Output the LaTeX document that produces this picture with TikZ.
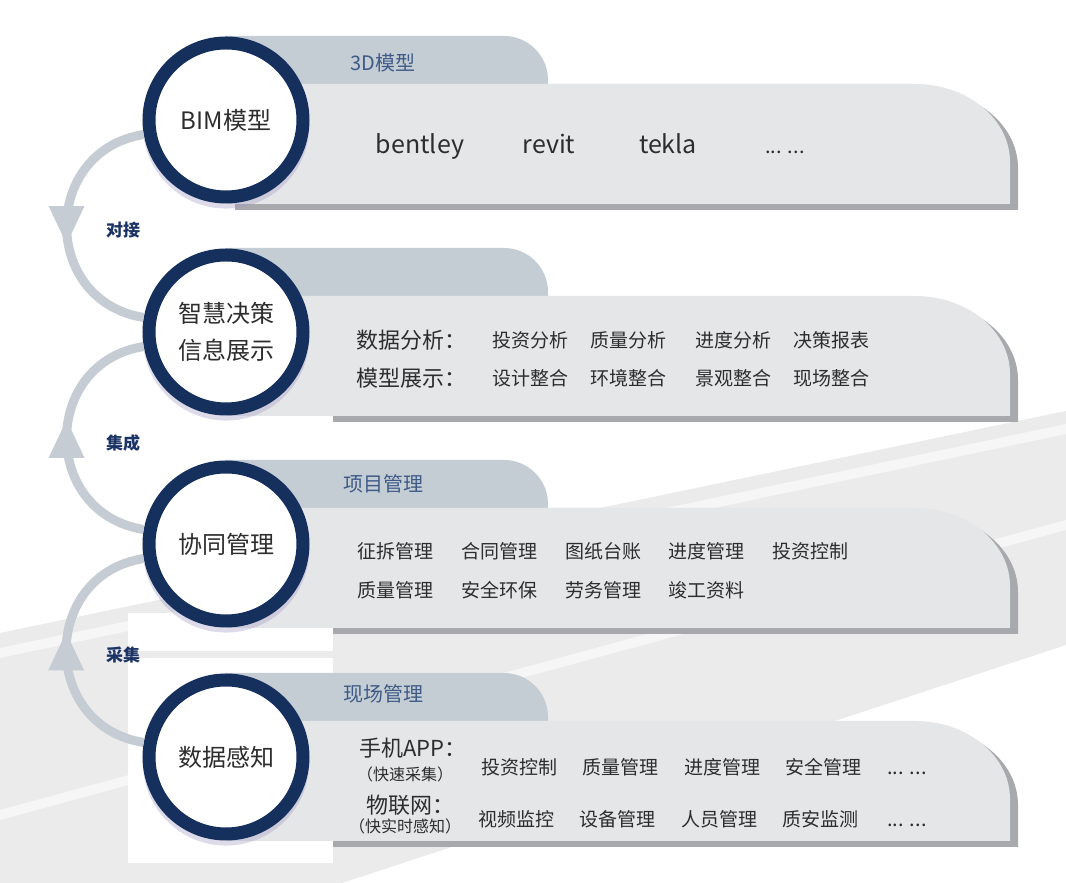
\documentclass[tikz,border=0pt]{standalone}
\usepackage{fontspec}
\setmainfont{Noto Sans CJK SC}
\usetikzlibrary{decorations.markings, shadows}
\definecolor{ringblue}{RGB}{22,48,94}
\definecolor{arcgray}{RGB}{197,204,211}
\definecolor{tabfill}{RGB}{197,205,212}
\definecolor{boxfill}{RGB}{229,230,232}
\definecolor{boxshade}{RGB}{168,169,173}
\definecolor{tabblue}{RGB}{62,90,135}
\definecolor{linkblue}{RGB}{28,52,101}
\definecolor{textgray}{RGB}{45,45,45}
\definecolor{road}{RGB}{235,235,236}
\definecolor{stripe}{RGB}{246,246,246}
\definecolor{glow}{RGB}{160,152,196}
\tikzset{
hub/.style={circle, draw=ringblue, line width=13pt, fill=white, minimum size=154pt, inner sep=0pt, align=center, text=textgray, font=\fontsize{24}{37}\selectfont, drop shadow={shadow scale=1.08, shadow xshift=0pt, shadow yshift=-5pt, opacity=.35, fill=glow}}, % the four round labels
flow/.style={line width=9pt, draw=arcgray, postaction={decorate}, decoration={markings, mark=at position 0.5 with {\fill[arcgray] (18pt,0pt) -- (-20pt,18pt) -- (-20pt,-18pt) -- cycle;}}},
tabtext/.style={font=\fontsize{20}{22}\selectfont, text=tabblue},
soft/.style={font=\fontsize{25}{27}\selectfont, text=textgray, anchor=base},
item/.style={font=\fontsize{19}{21}\selectfont, text=textgray},
head/.style={font=\fontsize{22}{24}\selectfont, text=textgray},
note/.style={font=\fontsize{16}{18}\selectfont, text=textgray},
dots/.style={font=\fontsize{20}{22}\selectfont, text=textgray, anchor=base},
link/.style={font=\bfseries\fontsize{17}{19}\selectfont, text=linkblue},
}
\begin{document}
\begin{tikzpicture}[x=1pt, y=1pt]
        \useasboundingbox (0,0) rectangle (1066,883);
        \fill[white] (0,0) rectangle (1066,883);
        % background road
        \fill[road] (0,250) -- (1066,472) -- (1066,238) -- (342,0) -- (0,0) -- cycle;
        \fill[stripe] (0,235) -- (1066,459) -- (1066,449) -- (0,225) -- cycle;
        \fill[stripe] (0,73) -- (1066,363) -- (1066,353) -- (0,63) -- cycle;
        \fill[white] (128,232) rectangle (333,270);
        \fill[white] (128,20) rectangle (333,225);
        % shadows
        \fill[boxshade] (235,673) -- (235,793) -- (923,793) arc[start angle=90, end angle=0, x radius=95pt, y radius=78pt] -- (1018,673) -- cycle;
        \fill[boxshade] (333,461) -- (333,581) -- (923,581) arc[start angle=90, end angle=0, x radius=95pt, y radius=78pt] -- (1018,461) -- cycle;
        \fill[boxshade] (333,249) -- (333,369) -- (923,369) arc[start angle=90, end angle=0, x radius=95pt, y radius=78pt] -- (1018,249) -- cycle;
        \fill[boxshade] (333,36) -- (333,156) -- (923,156) arc[start angle=90, end angle=0, x radius=95pt, y radius=78pt] -- (1018,36) -- cycle;
        % tabs
        \fill[tabfill] (226,799) -- (226,847) -- (504,847) arc[start angle=90, end angle=0, radius=44pt] -- (548,799) -- cycle;
        \fill[tabfill] (226,587) -- (226,635) -- (504,635) arc[start angle=90, end angle=0, radius=44pt] -- (548,587) -- cycle;
        \fill[tabfill] (226,375) -- (226,423) -- (504,423) arc[start angle=90, end angle=0, radius=44pt] -- (548,375) -- cycle;
        \fill[tabfill] (226,162) -- (226,210) -- (504,210) arc[start angle=90, end angle=0, radius=44pt] -- (548,162) -- cycle;
        % boxes
        \fill[boxfill] (226,679) -- (226,799) -- (915,799) arc[start angle=90, end angle=0, x radius=95pt, y radius=78pt] -- (1010,679) -- cycle;
        \fill[boxfill] (226,467) -- (226,587) -- (915,587) arc[start angle=90, end angle=0, x radius=95pt, y radius=78pt] -- (1010,467) -- cycle;
        \fill[boxfill] (226,255) -- (226,375) -- (915,375) arc[start angle=90, end angle=0, x radius=95pt, y radius=78pt] -- (1010,255) -- cycle;
        \fill[boxfill] (226,42) -- (226,162) -- (915,162) arc[start angle=90, end angle=0, x radius=95pt, y radius=78pt] -- (1010,42) -- cycle;
        % hubs
        \node[hub] (bim) at (226,763) {BIM模型};
        \node[hub] (info) at (226,551) {智慧决策\\信息展示};
        \node[hub] (coop) at (226,339) {协同管理};
        \node[hub] (sense) at (226,126) {数据感知};
        % links
        \draw[flow] (bim.190) to[out=189, in=171, looseness=1.46] (info.170);
        \draw[flow] (coop.170) to[out=171, in=189, looseness=1.46] (info.190);
        \draw[flow] (sense.170) to[out=171, in=189, looseness=1.46] (coop.190);
        \node[link] (l1) at (123,653) {对接};
        \node[link] (l2) at (123,440) {集成};
        \node[link] (l3) at (123,228) {采集};
        % tab titles
        \node[tabtext] (t1) at (383,820) {3D模型};
        \node[tabtext] (t3) at (383,399) {项目管理};
        \node[tabtext] (t4) at (383,189) {现场管理};
        % row 1
        \node[soft] (b1) at (420,729) {bentley};
        \node[soft] (b2) at (549,729) {revit};
        \node[soft] (b3) at (668,729) {tekla};
        \node[dots] (b4) at (785,729) {... ...};
        % row 2
        \node[head] (h1) at (411,543) {数据分析：};
        \node[item] at (530,543) {投资分析};
        \node[item] at (628,543) {质量分析};
        \node[item] at (733,543) {进度分析};
        \node[item] at (831,543) {决策报表};
        \node[head] (h2) at (411,505) {模型展示：};
        \node[item] at (530,505) {设计整合};
        \node[item] at (628,505) {环境整合};
        \node[item] at (733,505) {景观整合};
        \node[item] at (831,505) {现场整合};
        % row 3
        \node[item] at (395,332) {征拆管理};
        \node[item] at (499,332) {合同管理};
        \node[item] at (603,332) {图纸台账};
        \node[item] at (706,332) {进度管理};
        \node[item] at (810,332) {投资控制};
        \node[item] at (395,293) {质量管理};
        \node[item] at (499,293) {安全环保};
        \node[item] at (603,293) {劳务管理};
        \node[item] at (706,293) {竣工资料};
        % row 4
        \node[head] (h3) at (413,135) {手机APP：};
        \node[note] at (405,109) {（快速采集）};
        \node[head] (h4) at (410,78) {物联网：};
        \node[note] at (405,57) {（快实时感知）};
        \node[item] at (519,116) {投资控制};
        \node[item] at (620,116) {质量管理};
        \node[item] at (722,116) {进度管理};
        \node[item] at (823,116) {安全管理};
        \node[dots] at (907,108) {... ...};
        \node[item] at (516,64) {视频监控};
        \node[item] at (617,64) {设备管理};
        \node[item] at (719,64) {人员管理};
        \node[item] at (820,64) {质安监测};
        \node[dots] at (907,56) {... ...};
\end{tikzpicture}
\end{document}
